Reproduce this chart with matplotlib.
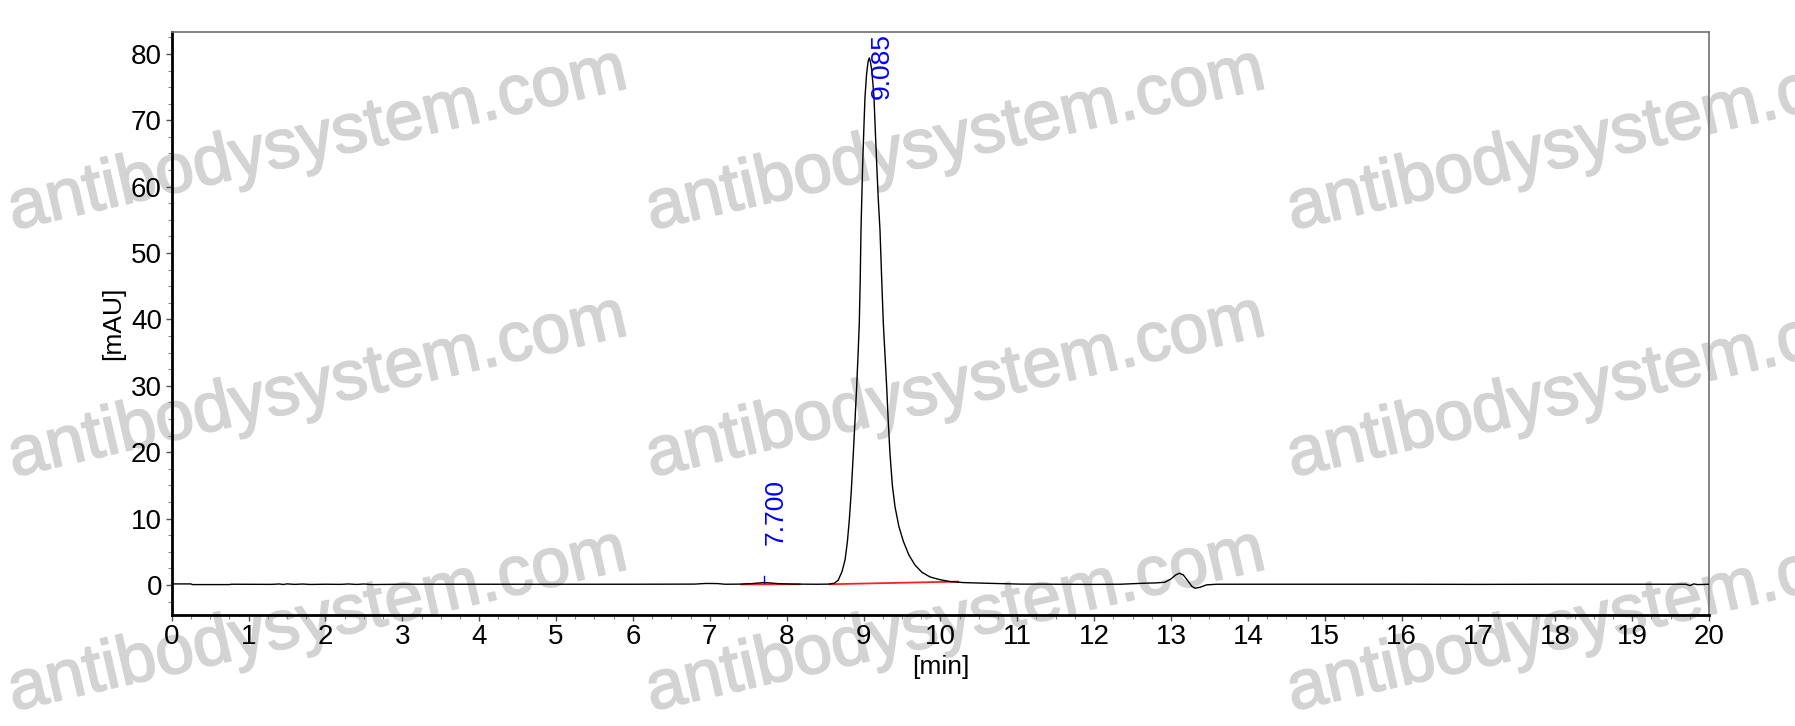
import matplotlib
matplotlib.use("Agg")
import matplotlib.pyplot as plt
import matplotlib.patheffects as pe
from matplotlib.ticker import MultipleLocator

plt.rcParams['font.family'] = ['Liberation Sans', 'DejaVu Sans']

# ---- data ----
time_min = [0.00, 0.25, 0.27, 0.75, 0.78, 1.30, 1.40, 1.45, 1.50, 1.60, 1.70, 1.80,
            2.00, 2.20, 2.30, 2.40, 2.50, 2.60, 3.00, 4.00, 5.00, 6.00, 6.80, 6.95,
            7.10, 7.20, 7.40, 7.55, 7.65, 7.70, 7.78, 7.90, 8.10, 8.40, 8.55, 8.62,
            8.67, 8.72, 8.76, 8.79, 8.815, 8.84, 8.867, 8.89, 8.911, 8.93, 8.945, 8.957,
            8.967, 8.978, 8.989, 9.005, 9.019, 9.04, 9.06, 9.075, 9.09, 9.106, 9.12, 9.136,
            9.153, 9.171, 9.19, 9.214, 9.235, 9.257, 9.28, 9.301, 9.32, 9.344, 9.375, 9.409,
            9.46, 9.517, 9.59, 9.669, 9.76, 9.865, 9.99, 10.125, 10.30, 10.60, 11.03, 11.50,
            12.00, 12.34, 12.64, 12.80, 12.92, 13.00, 13.06, 13.11, 13.16, 13.22, 13.27, 13.31,
            13.38, 13.46, 13.59, 14.00, 15.00, 16.00, 17.00, 18.00, 19.00, 19.70, 19.75, 19.80,
            19.85, 20.00]
absorbance_mAU = [0.15, 0.15, 0.05, 0.05, 0.10, 0.08, 0.14, 0.06, 0.15, 0.08, 0.13, 0.07,
                  0.10, 0.08, 0.14, 0.07, 0.13, 0.06, 0.10, 0.10, 0.10, 0.10, 0.12, 0.22,
                  0.20, 0.10, 0.12, 0.20, 0.30, 0.35, 0.30, 0.18, 0.12, 0.10, 0.12, 0.25,
                  0.70, 2.00, 3.80, 6.50, 9.80, 14.0, 19.8, 25.0, 29.9, 35.0, 39.5, 46.0,
                  53.5, 58.5, 63.5, 69.0, 73.5, 77.0, 78.9, 79.4, 78.8, 77.6, 75.8, 73.5,
                  68.5, 63.5, 58.5, 53.5, 46.5, 39.5, 34.5, 29.9, 25.0, 19.8, 15.0, 11.8,
                  8.80, 6.60, 4.50, 3.00, 1.90, 1.20, 0.80, 0.50, 0.35, 0.25, 0.12, 0.10,
                  0.08, 0.10, 0.25, 0.30, 0.40, 0.90, 1.50, 1.76, 1.50, 0.60, -0.20, -0.50,
                  -0.35, 0.00, 0.10, 0.10, 0.10, 0.10, 0.08, 0.10, 0.10, 0.10, -0.10, 0.15,
                  0.05, 0.10]

# integration baselines (red)
baseline_start_t = [7.41, 8.56]
baseline_end_t = [8.17, 10.23]
baseline_start_y = [0.08, 0.10]
baseline_end_y = [0.10, 0.50]

# peak labels
peak_times = [7.700, 9.085]
peak_labels = ["7.700", "9.085"]
peak_heights = [0.35, 79.4]

x_ticks = list(range(0, 21))
y_ticks = [0, 10, 20, 30, 40, 50, 60, 70, 80]

watermark = "antibodysystem.com"

# ---- figure ----
fig = plt.figure(figsize=(17.95, 7.26), dpi=100)
ax = fig.add_axes([0.09565, 0.1532, 0.8565, 0.8027])
ax.patch.set_facecolor('none')

# watermarks (behind the axes)
wm_x = [318, 956, 1597]
wm_y = [141, 388, 622]
for cx in wm_x:
    for cy in wm_y:
        fig.text(cx / 1795, 1 - cy / 726, watermark, fontsize=50, color='#d3d3d3',
                 rotation=13, rotation_mode='anchor', ha='center', va='center',
                 zorder=-5,
                 path_effects=[pe.withStroke(linewidth=1.3, foreground='#d3d3d3')])

ax.plot(time_min, absorbance_mAU, color='black', lw=1.0, zorder=3)

for xs, xe, ys, ye in zip(baseline_start_t, baseline_end_t, baseline_start_y, baseline_end_y):
    ax.plot([xs, xe], [ys, ye], color='#ff2020', lw=1.3, zorder=2)

# peak labels
ax.plot([peak_times[0], peak_times[0]], [peak_heights[0], peak_heights[0] + 1.0],
        color='blue', lw=1.0, zorder=4)
ax.text(peak_times[0], 6.0, peak_labels[0], rotation=90, color='blue', fontsize=19,
        ha='left', va='bottom', zorder=5)
ax.text(peak_times[1], 83.2, peak_labels[1], rotation=90, color='blue', fontsize=19,
        ha='left', va='top', zorder=5)

ax.set_xlim(0, 20)
ax.set_ylim(-4.5, 83.3)
ax.set_xticks(x_ticks)
ax.set_yticks(y_ticks)
ax.xaxis.set_minor_locator(MultipleLocator(0.25))
ax.yaxis.set_minor_locator(MultipleLocator(2.5))
ax.tick_params(axis='both', which='major', direction='out', length=4, width=1,
               color='#555555', labelsize=20, pad=3)
ax.tick_params(axis='both', which='minor', direction='out', length=3, width=0.8,
               color='#888888')

for side in ['left', 'bottom']:
    ax.spines[side].set_linewidth(2.0)
    ax.spines[side].set_color('black')
for side in ['top', 'right']:
    ax.spines[side].set_linewidth(1.2)
    ax.spines[side].set_color('#707070')

ax.set_xlabel('[min]', fontsize=19, labelpad=3)
ax.set_ylabel('[mAU]', fontsize=19, labelpad=4)

fig.savefig('out.png', dpi=100)
